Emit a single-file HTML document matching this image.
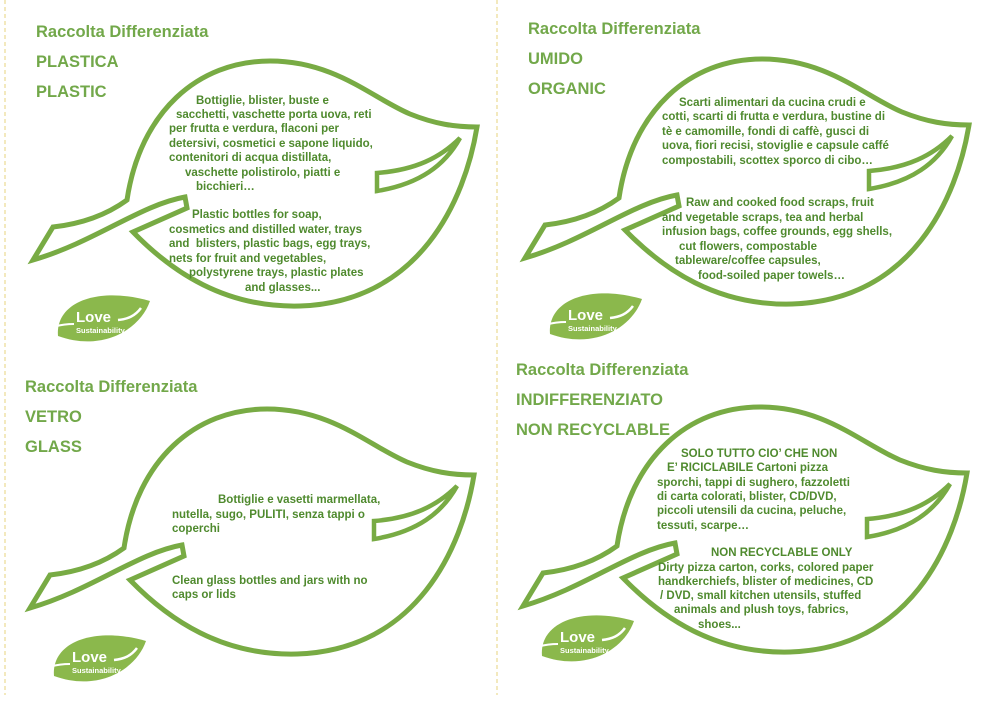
<!DOCTYPE html>
<html><head><meta charset="utf-8"><style>
html,body{margin:0;padding:0;background:#fff;width:999px;height:707px;overflow:hidden}
svg{display:block}
.h{font-family:"Liberation Sans",sans-serif;font-weight:bold;font-size:16.5px;fill:#72a84a}
.t{font-family:"Liberation Sans",sans-serif;font-weight:bold;font-size:11.5px;fill:#4f8a2e}
.lv{font-family:"Liberation Sans",sans-serif;font-weight:bold;fill:#fff}
</style></head><body>
<svg width="999" height="707" viewBox="0 0 999 707" xmlns="http://www.w3.org/2000/svg">
<defs>
<g id="leaf">
<path d="M33,260 L53,227 C80,224 105,216 127,200 C140,112 198,61 270,61 C335,61 372,98 410,114 C435,124 455,127 477,127 C465,200 420,302 300,306 C225,308 172,272 133,232 L187,208 L185,197 C140,205 95,242 33,260 Z" fill="#fff" stroke="#78ab44" stroke-width="5" stroke-linejoin="miter"/>
<path d="M460,138 C440,158 415,170 377,173 L377,191 C420,184 445,165 460,138 Z" fill="#fff" stroke="#78ab44" stroke-width="4.5"/>
</g>
<g id="logo">
<path d="M58,336 C55,302 98,286 150,301 C140,330 102,352 58,336 Z" fill="#8bb84c"/>
<path d="M37,334 C50,327 60,324 74,324" fill="none" stroke="#fff" stroke-width="2"/>
<path d="M118,320 C128,319 135,316 141,308" fill="none" stroke="#fff" stroke-width="2.5"/>
<text class="lv" x="76" y="322" font-size="15">Love</text>
<text class="lv" x="76" y="333" font-size="7.5">Sustainability</text>
</g>
</defs>

<line x1="5" y1="0" x2="5" y2="695" stroke="#efe2a8" stroke-width="1.5" stroke-dasharray="4,3"/>
<line x1="497" y1="0" x2="497" y2="695" stroke="#efe2a8" stroke-width="1.5" stroke-dasharray="4,3"/>

<!-- Q1 -->
<use href="#leaf"/>
<use href="#logo"/>
<text class="h" x="36" y="37">Raccolta Differenziata</text>
<text class="h" x="36" y="67">PLASTICA</text>
<text class="h" x="36" y="97">PLASTIC</text>
<text class="t" x="196" y="104">Bottiglie, blister, buste e</text>
<text class="t" x="176" y="118">sacchetti, vaschette porta uova, reti</text>
<text class="t" x="169" y="132">per frutta e verdura, flaconi per</text>
<text class="t" x="169" y="147">detersivi, cosmetici e sapone liquido,</text>
<text class="t" x="169" y="161">contenitori di acqua distillata,</text>
<text class="t" x="185" y="176">vaschette polistirolo, piatti e</text>
<text class="t" x="196" y="190">bicchieri…</text>
<text class="t" x="192" y="218">Plastic bottles for soap,</text>
<text class="t" x="169" y="233">cosmetics and distilled water, trays</text>
<text class="t" x="169" y="247" xml:space="preserve">and  blisters, plastic bags, egg trays,</text>
<text class="t" x="169" y="262">nets for fruit and vegetables,</text>
<text class="t" x="189" y="276">polystyrene trays, plastic plates</text>
<text class="t" x="245" y="291">and glasses...</text>

<!-- Q2 -->
<use href="#leaf" transform="translate(492,-2)"/>
<use href="#logo" transform="translate(492,-2)"/>
<text class="h" x="528" y="34">Raccolta Differenziata</text>
<text class="h" x="528" y="64">UMIDO</text>
<text class="h" x="528" y="94">ORGANIC</text>
<text class="t" x="679" y="106">Scarti alimentari da cucina crudi e</text>
<text class="t" x="662" y="120">cotti, scarti di frutta e verdura, bustine di</text>
<text class="t" x="662" y="135">tè e camomille, fondi di caffè, gusci di</text>
<text class="t" x="662" y="149">uova, fiori recisi, stoviglie e capsule caffé</text>
<text class="t" x="662" y="164">compostabili, scottex sporco di cibo…</text>
<text class="t" x="686" y="206">Raw and cooked food scraps, fruit</text>
<text class="t" x="662" y="221">and vegetable scraps, tea and herbal</text>
<text class="t" x="662" y="235">infusion bags, coffee grounds, egg shells,</text>
<text class="t" x="679" y="250">cut flowers, compostable</text>
<text class="t" x="675" y="264">tableware/coffee capsules,</text>
<text class="t" x="698" y="279">food-soiled paper towels…</text>

<!-- Q3 -->
<use href="#leaf" transform="translate(-3,348)"/>
<use href="#logo" transform="translate(-4,340)"/>
<text class="h" x="25" y="392">Raccolta Differenziata</text>
<text class="h" x="25" y="422">VETRO</text>
<text class="h" x="25" y="452">GLASS</text>
<text class="t" x="218" y="503">Bottiglie e vasetti marmellata,</text>
<text class="t" x="172" y="518">nutella, sugo, PULITI, senza tappi o</text>
<text class="t" x="172" y="532">coperchi</text>
<text class="t" x="172" y="584">Clean glass bottles and jars with no</text>
<text class="t" x="172" y="598">caps or lids</text>

<!-- Q4 -->
<use href="#leaf" transform="translate(490,346)"/>
<use href="#logo" transform="translate(484,320)"/>
<text class="h" x="516" y="375">Raccolta Differenziata</text>
<text class="h" x="516" y="405">INDIFFERENZIATO</text>
<text class="h" x="516" y="435">NON RECYCLABLE</text>
<text class="t" x="681" y="457">SOLO TUTTO CIO’ CHE NON</text>
<text class="t" x="667" y="471">E’ RICICLABILE Cartoni pizza</text>
<text class="t" x="657" y="486">sporchi, tappi di sughero, fazzoletti</text>
<text class="t" x="657" y="500">di carta colorati, blister, CD/DVD,</text>
<text class="t" x="657" y="514">piccoli utensili da cucina, peluche,</text>
<text class="t" x="657" y="529">tessuti, scarpe…</text>
<text class="t" x="711" y="556">NON RECYCLABLE ONLY</text>
<text class="t" x="658" y="571">Dirty pizza carton, corks, colored paper</text>
<text class="t" x="658" y="585">handkerchiefs, blister of medicines, CD</text>
<text class="t" x="660" y="599">/ DVD, small kitchen utensils, stuffed</text>
<text class="t" x="674" y="613">animals and plush toys, fabrics,</text>
<text class="t" x="698" y="628">shoes...</text>
</svg>
</body></html>
